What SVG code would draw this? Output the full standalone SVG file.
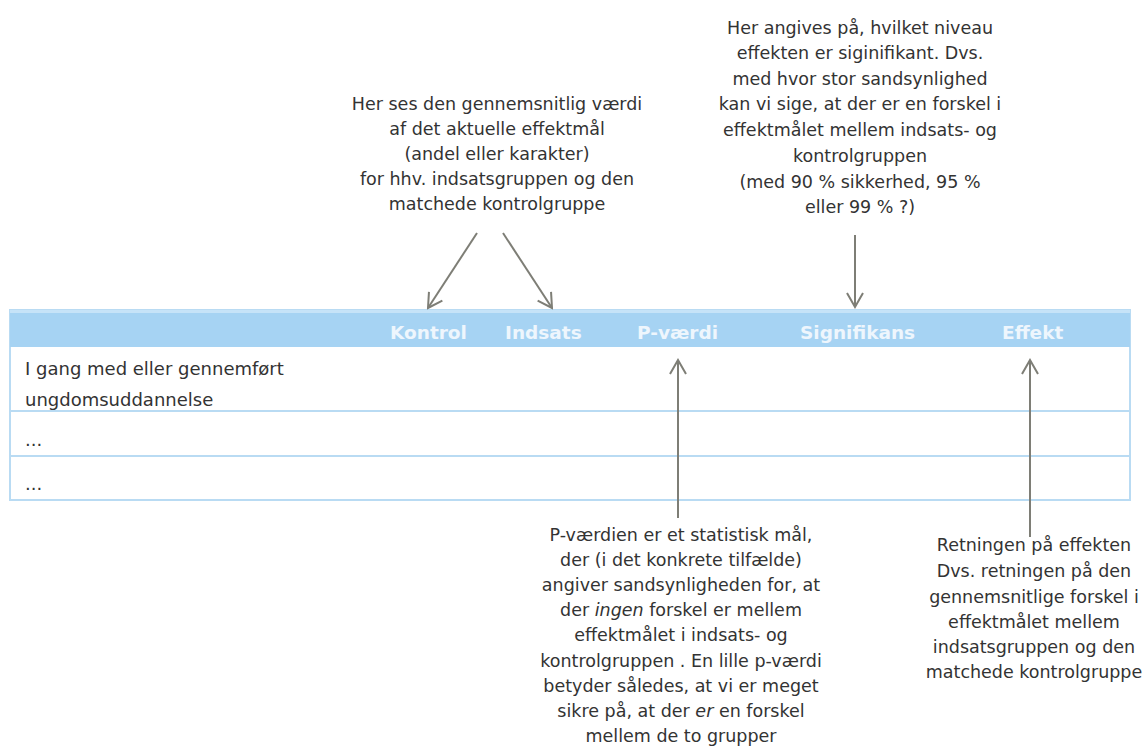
<svg xmlns="http://www.w3.org/2000/svg" width="1148" height="746" viewBox="0 0 1148 746">
<style>
.note{font-family:"DejaVu Sans",Verdana,sans-serif;font-size:17.5px;fill:#333;text-anchor:middle}
.cell{font-family:"DejaVu Sans",Verdana,sans-serif;font-size:18px;fill:#333}
.hdr{font-family:"DejaVu Sans",Verdana,sans-serif;font-size:18.5px;font-weight:bold;fill:#eef6fd}
.arr{stroke:#7e7e76;stroke-width:2;fill:none;marker-end:url(#v)}
.rule{stroke:#b9dbf3;stroke-width:2}
</style>
<defs>
<marker id="v" viewBox="0 0 20 20" refX="18" refY="10" markerWidth="20" markerHeight="20" markerUnits="userSpaceOnUse" orient="auto">
<path d="M4,2 L18,10 L4,18" fill="none" stroke="#7e7e76" stroke-width="2"/>
</marker>
</defs>
<rect width="1148" height="746" fill="#ffffff"/>
<g id="table">
<rect x="10" y="310" width="1120" height="190" fill="#ffffff" stroke="#b9dbf3" stroke-width="2"/>
<rect x="10" y="310" width="1120" height="37" fill="#a6d3f3"/>
<rect x="10" y="310" width="1120" height="3" fill="#c6e3f8"/>
<line class="rule" x1="10" y1="411" x2="1130" y2="411"/>
<line class="rule" x1="10" y1="456" x2="1130" y2="456"/>
<text class="hdr" x="390" y="339">Kontrol</text>
<text class="hdr" x="505" y="339">Indsats</text>
<text class="hdr" x="637" y="339">P-værdi</text>
<text class="hdr" x="800" y="339">Signifikans</text>
<text class="hdr" x="1002" y="339">Effekt</text>
<text class="cell" x="25" y="375">I gang med eller gennemført</text>
<text class="cell" x="25" y="406">ungdomsuddannelse</text>
<text class="cell" x="25" y="446">...</text>
<text class="cell" x="25" y="490">...</text>
</g>
<g id="note-mean">
<text class="note" x="497" y="110">Her ses den gennemsnitlig værdi</text>
<text class="note" x="497" y="135">af det aktuelle effektmål</text>
<text class="note" x="497" y="160">(andel eller karakter)</text>
<text class="note" x="497" y="185">for hhv. indsatsgruppen og den</text>
<text class="note" x="497" y="210">matchede kontrolgruppe</text>
</g>
<g id="note-signifikans">
<text class="note" x="860" y="34">Her angives på, hvilket niveau</text>
<text class="note" x="860" y="59">effekten er siginifikant. Dvs.</text>
<text class="note" x="860" y="85">med hvor stor sandsynlighed</text>
<text class="note" x="860" y="110">kan vi sige, at der er en forskel i</text>
<text class="note" x="860" y="136">effektmålet mellem indsats- og</text>
<text class="note" x="860" y="162">kontrolgruppen</text>
<text class="note" x="860" y="188">(med 90 % sikkerhed, 95 %</text>
<text class="note" x="860" y="213">eller 99 % ?)</text>
</g>
<g id="note-pvaerdi">
<text class="note" x="681" y="541">P-værdien er et statistisk mål,</text>
<text class="note" x="681" y="566">der (i det konkrete tilfælde)</text>
<text class="note" x="681" y="591">angiver sandsynligheden for, at</text>
<text class="note" x="681" y="616">der <tspan font-style="italic">ingen</tspan> forskel er mellem</text>
<text class="note" x="681" y="641">effektmålet i indsats- og</text>
<text class="note" x="681" y="667">kontrolgruppen . En lille p-værdi</text>
<text class="note" x="681" y="692">betyder således, at vi er meget</text>
<text class="note" x="681" y="717">sikre på, at der <tspan font-style="italic">er</tspan> en forskel</text>
<text class="note" x="681" y="742">mellem de to grupper</text>
</g>
<g id="note-effekt">
<text class="note" x="1034" y="551">Retningen på effekten</text>
<text class="note" x="1034" y="577">Dvs. retningen på den</text>
<text class="note" x="1034" y="603">gennemsnitlige forskel i</text>
<text class="note" x="1034" y="628">effektmålet mellem</text>
<text class="note" x="1034" y="653">indsatsgruppen og den</text>
<text class="note" x="1034" y="678">matchede kontrolgruppe</text>
</g>
<g id="connectors">
<line class="arr" x1="477" y1="233" x2="428" y2="308"/>
<line class="arr" x1="503" y1="233" x2="552" y2="308"/>
<line class="arr" x1="855" y1="235" x2="855" y2="307"/>
<line class="arr" x1="678" y1="518" x2="678" y2="360"/>
<line class="arr" x1="1030" y1="537" x2="1030" y2="360"/>
</g>
</svg>
